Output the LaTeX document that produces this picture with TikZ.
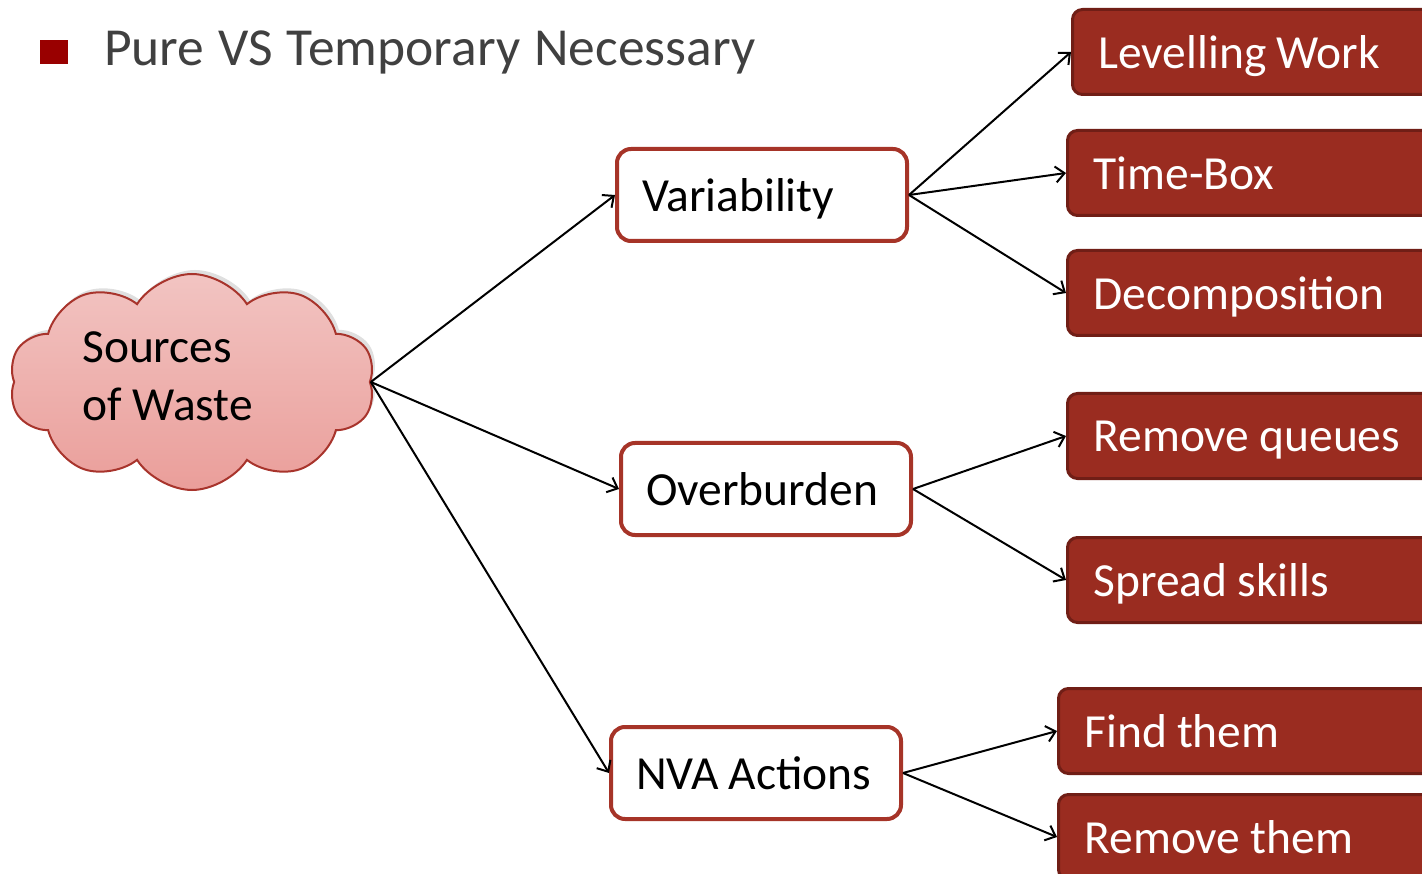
\documentclass[tikz,border=0pt]{standalone}
\usepackage{fontspec}
\setmainfont{Carlito}
\usetikzlibrary{arrows.meta,shapes.symbols,shadows}
\definecolor{boxred}{RGB}{154,44,32}
\definecolor{boxredline}{RGB}{112,30,22}
\definecolor{frame}{RGB}{166,52,40}
\definecolor{cloudtop}{RGB}{242,196,194}
\definecolor{cloudbot}{RGB}{234,158,154}
\definecolor{cloudline}{RGB}{168,52,44}
\definecolor{bullet}{RGB}{153,0,0}
\definecolor{titlegray}{RGB}{64,64,64}
\newcommand\tightwords{\spaceskip=0.21em\relax}
\tikzset{
  big/.style={font=\fontsize{47.5}{58}\selectfont},
  whitebox/.style={big, draw=frame, line width=4, rounded corners=14, fill=white,
    minimum width=290, minimum height=92, anchor=north west, text=black,
    align=left, inner xsep=0, text width=290, text depth=0,
    execute at begin node={\tightwords\hspace*{25pt}}},
  redbox/.style={big, draw=boxredline, line width=3, rounded corners=10, fill=boxred,
    minimum height=85, anchor=north west, text=white, align=left,
    inner xsep=0, text width=380, text depth=0,
    execute at begin node={\tightwords\hspace*{26pt}}},
  link/.style={line width=2, -{Straight Barb[length=9,width=16,line width=2]}},
}
\begin{document}
\begin{tikzpicture}[x=1pt,y=-1pt]
\useasboundingbox (0,0) rectangle (1422,874);
\clip (0,0) rectangle (1422,874);

% heading
\fill[bullet] (40,40) rectangle (68,64);
\node[font=\fontsize{53.5}{64}\selectfont, text=titlegray,
  anchor=base west, inner sep=0, execute at begin node={\spaceskip=0.26em\relax}]
  (title) at (104,66) {Pure VS Temporary Necessary};

% source cloud
\node[cloud, cloud puffs=10, cloud puff arc=115, aspect=1.75,
  draw=cloudline, line width=2, top color=cloudtop, bottom color=cloudbot,
  drop shadow={opacity=0.25, shadow xshift=3, shadow yshift=-4},
  minimum width=366, minimum height=216, inner sep=0] (src) at (192,382) {};
\node[big, align=left, anchor=north west, inner sep=0]
  (srctxt) at (82,331) {Sources\\of Waste};

% middle level
\node[whitebox] (var) at (615,147) {Variability};
\node[whitebox] (ovb) at (619,441) {Overburden};
\node[whitebox] (nva) at (609,725) {NVA Actions};

% right level
\node[redbox] (lev) at (1071,8)   {Levelling Work};
\node[redbox] (tbx) at (1066,129) {Time-Box};
\node[redbox] (dec) at (1066,249) {Decomposition};
\node[redbox] (rmq) at (1066,392) {Remove queues};
\node[redbox] (spr) at (1066,536) {Spread skills};
\node[redbox] (fnd) at (1057,687) {Find them};
\node[redbox] (rmt) at (1057,793) {Remove them};

% connectors
\draw[link] (src.east) -- (var.west);
\draw[link] (src.east) -- (ovb.west);
\draw[link] (src.east) -- (nva.west);
\draw[link] (var.east) -- (lev.west);
\draw[link] (var.east) -- (tbx.west);
\draw[link] (var.east) -- (dec.west);
\draw[link] (ovb.east) -- (rmq.west);
\draw[link] (ovb.east) -- (spr.west);
\draw[link] (nva.east) -- (fnd.west);
\draw[link] (nva.east) -- (rmt.west);
\end{tikzpicture}
\end{document}
